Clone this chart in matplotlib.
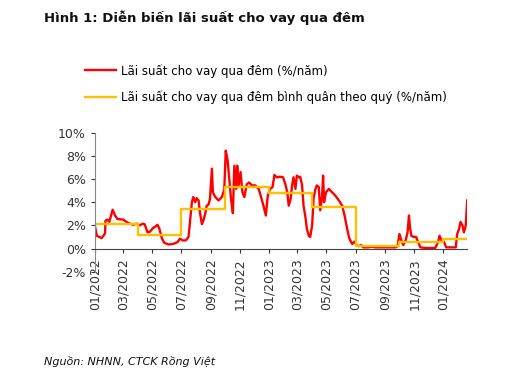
import matplotlib
matplotlib.use("Agg")
from matplotlib import pyplot as plt
import numpy as np
import pandas as pd

# overnight rate: days since 2022-01-01 and %/year
days = [0, 4, 14, 21, 22, 26, 30, 37, 42, 47, 59, 66, 73, 80, 87, 94, 100, 104,
        110, 115, 121, 125, 131, 135, 140, 145, 154, 164, 173, 178, 184, 190,
        196, 199, 203, 206, 210, 213, 217, 220, 224, 227, 231, 234, 238, 241,
        245, 247, 252, 259, 266, 271, 274, 278, 282, 285, 289, 292, 296, 298,
        301, 305, 309, 313, 318, 323, 329, 336, 343, 348, 353, 358, 362, 367,
        372, 376, 381, 388, 394, 399, 403, 406, 410, 413, 416, 420, 423, 427,
        430, 434, 437, 441, 444, 448, 451, 455, 458, 462, 465, 469, 472, 476,
        478, 480, 484, 490, 497, 504, 511, 518, 523, 527, 532, 535, 539, 544,
        548, 553, 558, 562, 571, 580, 588, 600, 615, 630, 634, 638, 642, 646,
        651, 655, 658, 660, 663, 668, 673, 677, 682, 692, 705, 713, 719, 722,
        726, 731, 736, 745, 756, 759, 763, 766, 770, 773, 777, 780]
rate = [1.9, 1.1, 0.9, 1.3, 2.4, 2.5, 2.3, 3.35, 2.85, 2.55, 2.5, 2.3, 2.15,
        2.05, 2.15, 2.0, 2.15, 2.1, 1.4, 1.45, 1.75, 1.85, 2.05, 1.7, 0.9,
        0.5, 0.35, 0.4, 0.55, 0.85, 0.7, 0.7, 1.0, 2.3, 4.0, 4.45, 4.0, 4.35,
        4.15, 3.1, 2.1, 2.4, 3.0, 3.7, 3.8, 4.3, 6.9, 4.85, 4.45, 4.15, 4.45,
        5.15, 8.45, 7.6, 5.7, 4.3, 3.05, 7.15, 5.15, 7.15, 5.45, 6.6, 4.85,
        4.45, 5.55, 5.7, 5.45, 5.45, 5.15, 4.45, 3.7, 2.85, 4.55, 5.15, 5.3,
        6.35, 6.15, 6.2, 6.15, 5.55, 4.85, 3.7, 4.3, 5.45, 6.15, 5.15, 6.3,
        6.15, 6.2, 5.45, 3.7, 2.7, 1.7, 1.1, 1.0, 2.0, 4.3, 5.15, 5.45, 5.3,
        3.3, 4.55, 6.3, 4.0, 4.85, 5.15, 4.85, 4.55, 4.15, 3.7, 2.85, 2.0,
        1.0, 0.7, 0.4, 0.6, 0.3, 0.2, 0.3, 0.1, 0.1, 0.15, 0.1, 0.1, 0.1,
        0.1, 0.2, 1.25, 0.7, 0.3, 0.7, 1.4, 2.85, 1.85, 1.1, 1.0, 1.0, 0.55,
        0.1, 0.05, 0.05, 0.05, 0.55, 1.1, 0.7, 0.6, 0.1, 0.1, 0.1, 1.25, 1.7,
        2.3, 2.0, 1.4, 2.0, 4.15]

# quarterly average
q_start = ["2022-01-01", "2022-04-01", "2022-07-01", "2022-10-01", "2023-01-01",
           "2023-04-01", "2023-07-01", "2023-10-01", "2024-01-01", "2024-02-19"]
q_avg = [2.1, 1.2, 3.4, 5.3, 4.8, 3.6, 0.2, 0.6, 0.8, 0.8]

tick_dates = ["2022-01-01", "2022-03-01", "2022-05-01", "2022-07-01", "2022-09-01",
              "2022-11-01", "2023-01-01", "2023-03-01", "2023-05-01", "2023-07-01",
              "2023-09-01", "2023-11-01", "2024-01-01"]
tick_labels = ["01/2022", "03/2022", "05/2022", "07/2022", "09/2022", "11/2022",
               "01/2023", "03/2023", "05/2023", "07/2023", "09/2023", "11/2023",
               "01/2024"]

dates = pd.Timestamp("2022-01-01") + pd.to_timedelta(days, unit="D")
qd = pd.to_datetime(q_start)
td = pd.to_datetime(tick_dates)

fig = plt.figure(figsize=(5.24, 3.85), dpi=100)
ax = fig.add_axes([0.1813, 0.2943, 0.7094, 0.361])
ax.spines["top"].set_visible(False)
ax.spines["right"].set_visible(False)
ax.spines["left"].set_color("#888888")
ax.spines["bottom"].set_color("#444444")

ax.plot(dates, rate, color="#ff0000", linewidth=1.7, label="Lãi suất cho vay qua đêm (%/năm)")
ax.plot(qd, q_avg, color="#ffc000", linewidth=1.7, drawstyle="steps-post",
        label="Lãi suất cho vay qua đêm bình quân theo quý (%/năm)")

ax.set_ylim(-2, 10)
ax.set_yticks([-2, 0, 2, 4, 6, 8, 10])
ax.set_yticklabels(["-2%", "0%", "2%", "4%", "6%", "8%", "10%"])
ax.set_xlim(pd.Timestamp("2022-01-01"), qd[-1])
ax.spines["bottom"].set_position(("data", 0))
ax.set_xticks(td)
ax.set_xticklabels(tick_labels, rotation=90)
ax.tick_params(axis="both", labelsize=9, length=3, colors="#333333")
ax.tick_params(axis="x", pad=4)

ax.legend(loc="upper left", bbox_to_anchor=(-0.055, 1.57), frameon=False,
          fontsize=8.5, handlelength=2.6, handletextpad=0.4, labelspacing=1.1)

fig.text(0.084, 0.953, "Hình 1: Diễn biến lãi suất cho vay qua đêm",
         fontsize=9.5, fontweight="bold", va="center", color="#111111")
fig.text(0.084, 0.06, "Nguồn: NHNN, CTCK Rồng Việt", fontsize=8,
         style="italic", va="center", color="#111111")

plt.savefig("out.png", dpi=100)
